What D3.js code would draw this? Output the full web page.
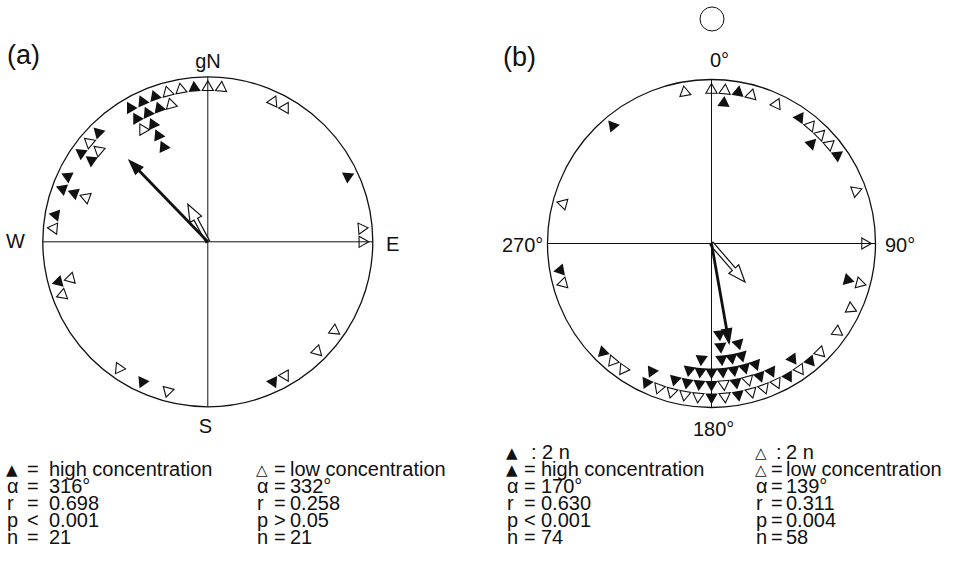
<!DOCTYPE html>
<html>
<head>
<meta charset="utf-8">
<script src="https://cdn.jsdelivr.net/npm/d3@7"></script>
<style>
  body { margin: 0; background: #fff; }
  svg { display: block; font-family: "Liberation Sans", Arial, Helvetica, sans-serif; }
</style>
</head>
<body>
<div id="chart"></div>
<script>
////////////////////////////////////////////////////////////////////
////////////////////////////  Data  ////////////////////////////////
// each symbol: [direction in degrees, stack level counted inward from the rim]
const aHigh = [
  [355, 0], [340, 0], [340, 1], [335, 0], [335, 1], [335, 2], [335, 3], [335, 4],
  [330, 0], [330, 1], [315, 0], [305, 0], [305, 1], [295, 0], [290, 0], [290, 1],
  [280, 0], [65, 0], [255, 0], [205, 0], [155, 0]
];
const aLow = [
  [0, 0], [5, 0], [350, 0], [345, 0], [345, 1], [330, 2], [310, 0], [310, 1],
  [290, 2], [275, 0], [25, 0], [30, 0], [85, 0], [90, 0], [255, 1], [250, 0],
  [215, 0], [195, 0], [150, 0], [135, 0], [125, 0]
];
const bHigh = [
  [320, 0], [10, 0], [5, 1], [35, 0], [45, 1], [55, 0], [260, 0], [225, 0], [105, 1],
  [205, 0], [205, 1], [195, 1], [190, 1], [190, 2], [185, 1], [185, 2], [185, 3],
  [180, 0], [180, 1], [180, 2], [175, 2], [175, 3], [175, 4], [175, 5],
  [170, 0], [170, 1], [170, 2], [170, 3], [165, 2], [165, 3], [165, 4],
  [160, 1], [160, 2], [155, 1], [150, 0], [145, 1], [140, 0]
];
const bLow = [
  [350, 0], [0, 0], [5, 0], [15, 0], [25, 0], [40, 0], [45, 0], [50, 0], [70, 0],
  [90, 0], [285, 0], [255, 0], [220, 0], [215, 0], [105, 0], [115, 0], [125, 0],
  [135, 0], [200, 0], [195, 0], [190, 0], [185, 0], [175, 0], [175, 1], [165, 0],
  [165, 1], [160, 0], [155, 0], [145, 0]
];

// mean vectors [high, low]
const aMeanDeg = [316, 332];
const aMeanR = [0.698, 0.258];
const aP = [["<", "0.001"], [">", "0.05"]];
const aN = [21, 21];
const bMeanDeg = [170, 139];
const bMeanR = [0.630, 0.311];
const bP = [["<", "0.001"], ["=", "0.004"]];
const bN = [74, 58];

const aAxisLabels = ["gN", "E", "S", "W"];
const bAxisLabels = ["0°", "90°", "180°", "270°"];
const groupNames = ["high concentration", "low concentration"];

////////////////////////////////////////////////////////////////////
////////////////////////////  Init  ////////////////////////////////
const width = 969, height = 569;
const ink = "#111";
const svg = d3.select("#chart").append("svg")
  .attr("width", width).attr("height", height);

const toRad = d3.scaleLinear().domain([0, 360]).range([0, 2 * Math.PI]);
const tri = d3.symbol().type(d3.symbolTriangle);

function drawPanel(p) {
  const g = svg.append("g").attr("transform", `translate(${p.cx},${p.cy})`);
  const rLevel = d3.scaleLinear().domain([0, 1]).range([p.R - 10.5, p.R - 23]);
  const rVec = d3.scaleLinear().domain([0, 1]).range([0, p.R]);

  // cross lines
  [0, 90].forEach((deg) => {
    const a = d3.pointRadial(toRad(deg), p.R);
    const b = d3.pointRadial(toRad(deg + 180), p.R);
    g.append("line")
      .attr("x1", a[0]).attr("y1", a[1]).attr("x2", b[0]).attr("y2", b[1])
      .attr("stroke", ink).attr("stroke-width", 1);
  });

  g.append("circle").attr("r", p.R)
    .attr("fill", "none").attr("stroke", ink).attr("stroke-width", 1.3);

  const place = (d) => {
    const [x, y] = d3.pointRadial(toRad(d[0]), rLevel(d[1]));
    return `translate(${x},${y}) rotate(${d[0]})`;
  };

  g.selectAll(".low").data(p.low).join("path")
    .attr("class", "low")
    .attr("d", tri.size(54)())
    .attr("transform", place)
    .attr("fill", "none").attr("stroke", ink).attr("stroke-width", 1.1);

  g.selectAll(".high").data(p.high).join("path")
    .attr("class", "high")
    .attr("d", tri.size(66)())
    .attr("transform", place)
    .attr("fill", ink);

  // mean vectors
  const line = d3.line();
  // low: outlined arrow
  {
    const L = rVec(p.meanR[1]), hl = 17, hw = 2, hh = 6.5;
    g.append("path")
      .attr("transform", `rotate(${p.meanDeg[1]})`)
      .attr("d", line([[-hw, 0], [-hw, -(L - hl)], [-hh, -(L - hl)], [0, -L],
        [hh, -(L - hl)], [hw, -(L - hl)], [hw, 0]]) + "Z")
      .attr("fill", "#fff").attr("stroke", ink).attr("stroke-width", 1.2)
      .attr("stroke-linejoin", "miter");
  }
  // high: solid arrow
  {
    const L = rVec(p.meanR[0]), hl = 17, hh = 6;
    const a = g.append("g").attr("transform", `rotate(${p.meanDeg[0]})`);
    a.append("line").attr("x1", 0).attr("y1", 0).attr("x2", 0).attr("y2", -(L - hl + 2))
      .attr("stroke", ink).attr("stroke-width", 2.8);
    a.append("path")
      .attr("d", line([[0, -L], [-hh, -(L - hl)], [hh, -(L - hl)]]) + "Z")
      .attr("fill", ink);
  }

  // axis labels
  p.labels.forEach((t, i) => {
    svg.append("text")
      .attr("x", p.labelPos[i][0]).attr("y", p.labelPos[i][1])
      .attr("text-anchor", p.labelPos[i][2])
      .attr("font-size", 20).attr("fill", ink)
      .text(t);
  });

  svg.append("text")
    .attr("x", p.tag[0]).attr("y", p.tag[1])
    .attr("font-size", 27).attr("fill", ink)
    .text(p.tagText);
}

const panels = [
  {
    cx: 207.8, cy: 241.8, R: 165, high: aHigh, low: aLow,
    meanDeg: aMeanDeg, meanR: aMeanR, labels: aAxisLabels,
    labelPos: [[208, 68, "middle"], [386, 251, "start"], [205.5, 433, "middle"], [6, 248, "start"]],
    tag: [7, 64], tagText: "(a)"
  },
  {
    cx: 711.5, cy: 243.5, R: 164, high: bHigh, low: bLow,
    meanDeg: bMeanDeg, meanR: bMeanR, labels: bAxisLabels,
    labelPos: [[710, 67, "start"], [885, 252, "start"], [693, 436, "start"], [502, 252, "start"]],
    tag: [503, 66], tagText: "(b)"
  }
];
panels.forEach(drawPanel);

// small open circle above (b)
svg.append("circle").attr("cx", 712).attr("cy", 19).attr("r", 12)
  .attr("fill", "none").attr("stroke", ink).attr("stroke-width", 1);

////////////////////////////////////////////////////////////////////
////////////////////////////  Legend  //////////////////////////////
const rowY = d3.range(6).map((i) => 459 + i * 17);

// col: x0, op / val = x offsets of operator and value, colon / colonVal for the "2 n" row
function legend(col, firstRow, rows) {
  rows.forEach((row, i) => {
    const t = svg.append("text")
      .attr("y", rowY[firstRow + i]).attr("font-size", 20).attr("fill", ink);
    const isSym = row[0] === "▲" || row[0] === "△";
    const colon = row[1] === ":";
    t.append("tspan").attr("x", isSym ? col.x0 : col.x0 + 1)
      .attr("font-family", isSym ? "DejaVu Sans" : null)
      .attr("font-size", isSym ? 15 : null)
      .attr("dy", isSym ? -1 : 0)
      .text(row[0]);
    t.append("tspan").attr("x", col.x0 + (colon ? col.colon : col.op))
      .attr("dy", isSym ? 1 : 0).text(row[1]);
    t.append("tspan").attr("x", col.x0 + (colon ? col.colonVal : col.val)).text(row[2]);
  });
}

function statRows(sym, k, meanDeg, meanR, pv, n, perSymbol) {
  const rows = [];
  if (perSymbol) rows.push([sym, ":", "2 n"]);
  rows.push([sym, "=", groupNames[k]]);
  rows.push(["α", "=", meanDeg[k] + "°"]);
  rows.push(["r", "=", d3.format(".3f")(meanR[k])]);
  rows.push(["p", pv[k][0], pv[k][1]]);
  rows.push(["n", "=", String(n[k])]);
  return rows;
}

legend({ x0: 6, op: 21, val: 43 }, 1, statRows("▲", 0, aMeanDeg, aMeanR, aP, aN, false));
legend({ x0: 256, op: 18, val: 34 }, 1, statRows("△", 1, aMeanDeg, aMeanR, aP, aN, false));
legend({ x0: 506, op: 18, val: 35, colon: 25, colonVal: 36 }, 0,
  statRows("▲", 0, bMeanDeg, bMeanR, bP, bN, true));
legend({ x0: 755, op: 16, val: 31, colon: 21, colonVal: 31 }, 0,
  statRows("△", 1, bMeanDeg, bMeanR, bP, bN, true));
</script>
</body>
</html>
